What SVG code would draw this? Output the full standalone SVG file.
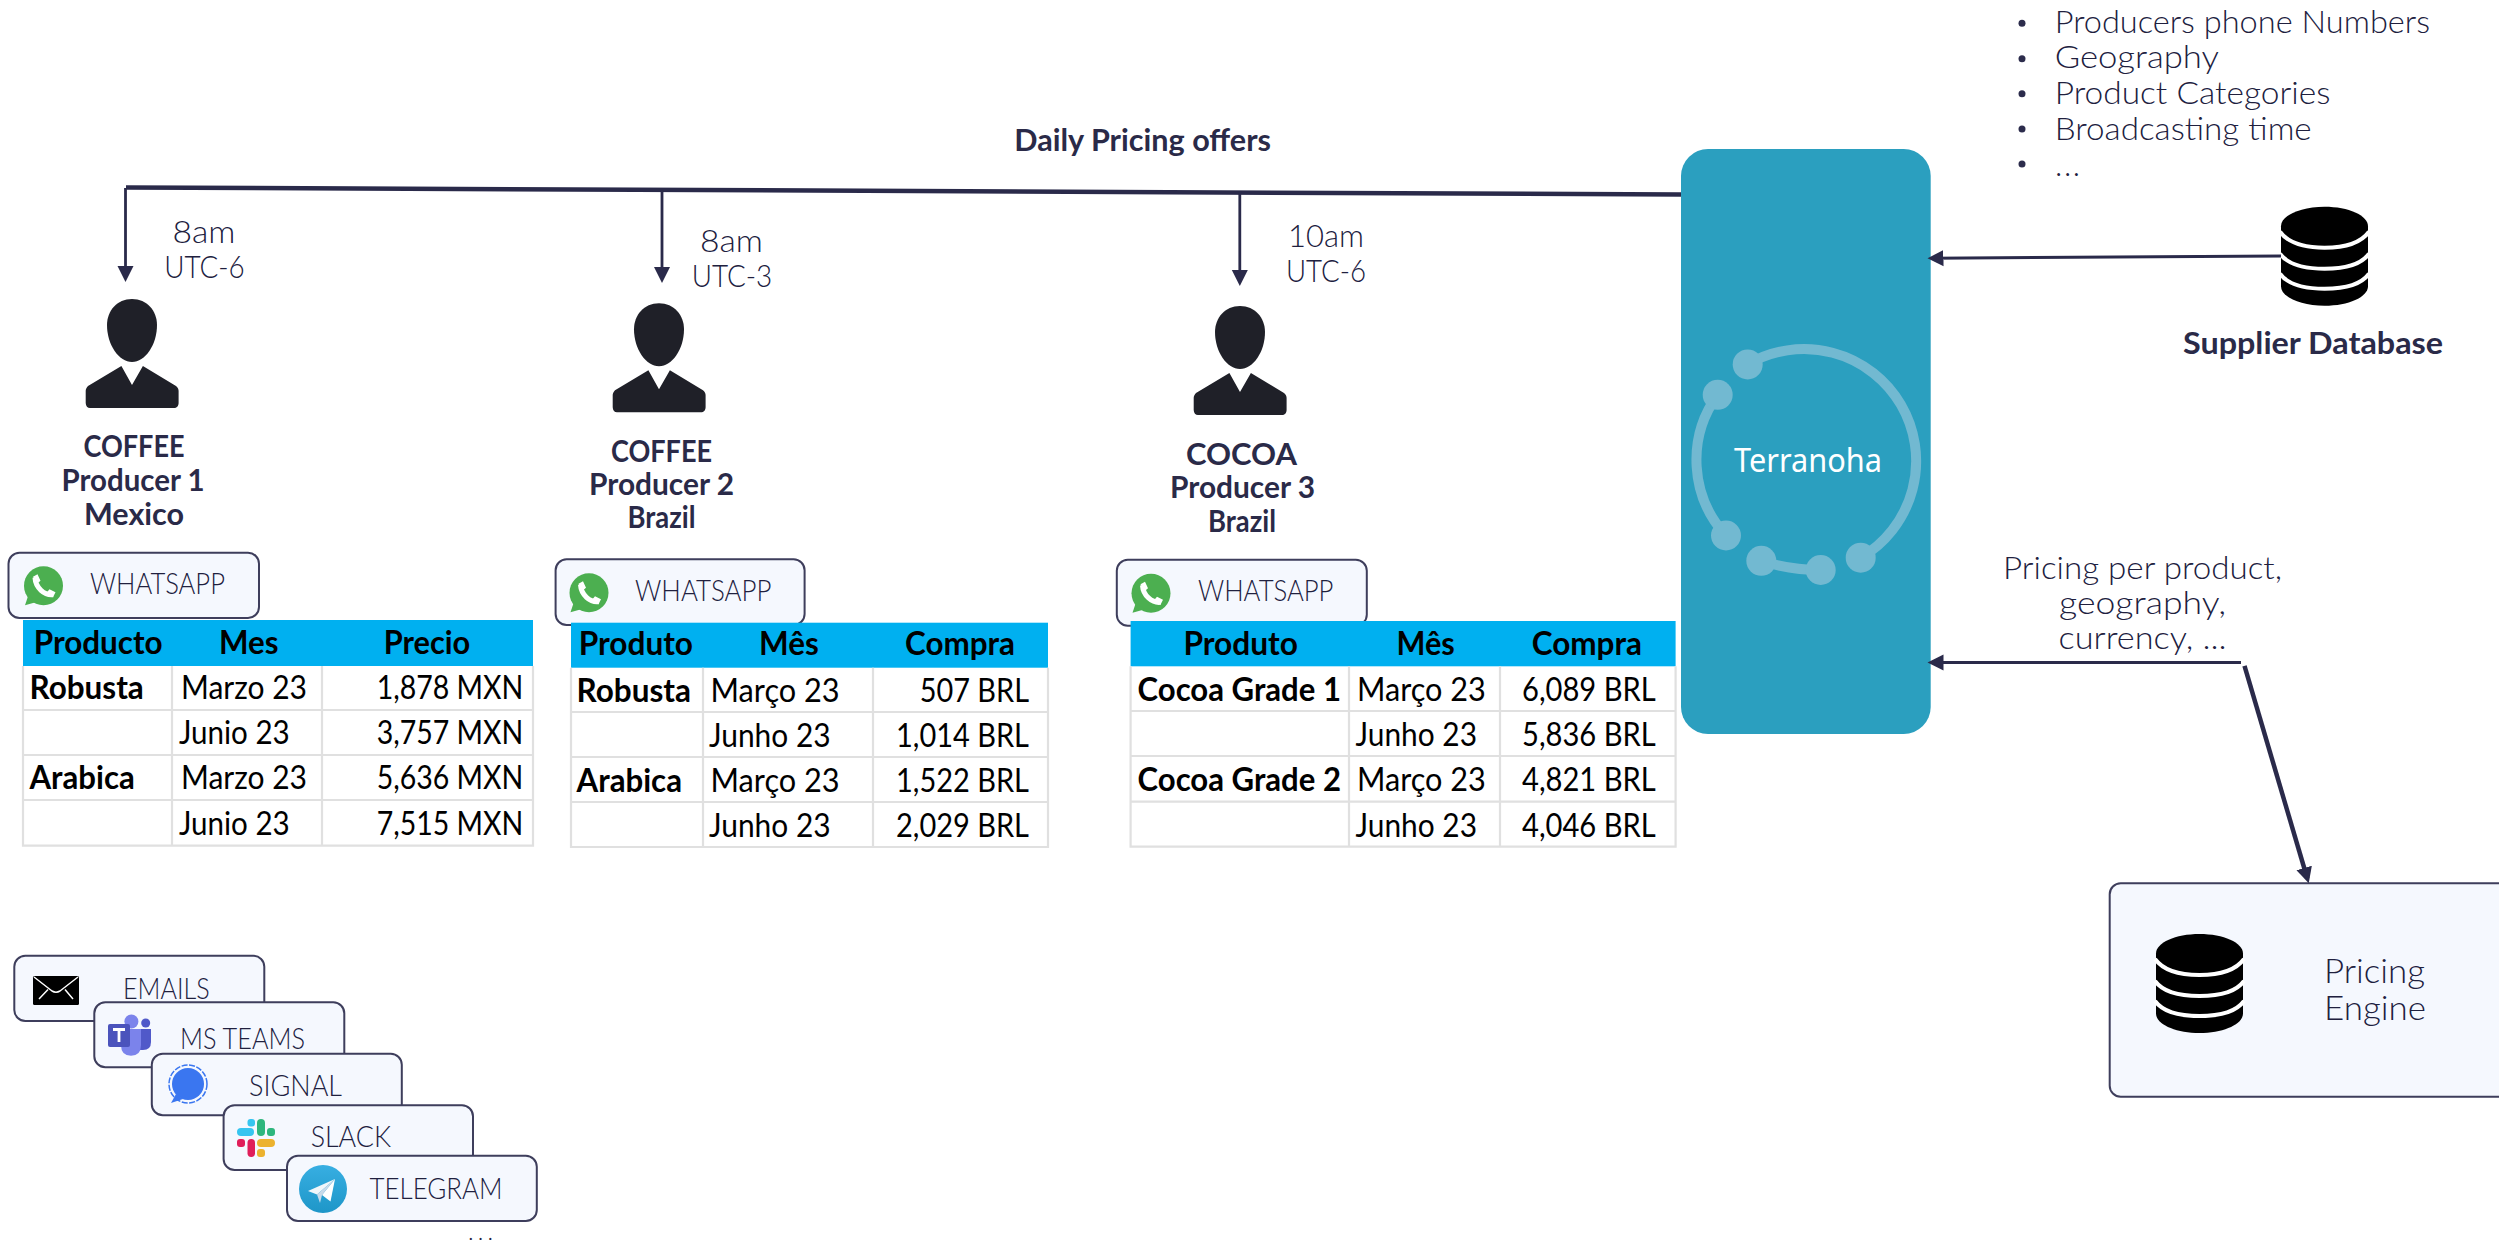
<svg xmlns="http://www.w3.org/2000/svg" width="2499" height="1245" viewBox="0 0 2499 1245">
<style>
text{font-family:"Lato","Liberation Sans",sans-serif}
.l{font-size:31px;font-weight:300;fill:#20203e}
.h{font-size:30px;font-weight:700;fill:#2a2a48}
.c{font-size:29px;font-weight:300;fill:#20203e}
.th{font-size:33px;font-weight:700;fill:#000}
.td{font-size:33px;font-weight:400;fill:#000}
.tb{font-size:33px;font-weight:700;fill:#000}
.card{fill:#f5f8fe;stroke:#3e3e5c;stroke-width:2}
.grid{stroke:#e0e0e0;stroke-width:2.2;fill:none}
.hd{fill:#00b0f0}
.thin{stroke:#2a2a4a;stroke-width:2.8;fill:none}
.mid{stroke:#2a2a4a;stroke-width:3;fill:none}
.thick{stroke:#2a2a4a;stroke-width:4.5;fill:none}
.ring{stroke:#72b9d1;stroke-width:10;fill:none}
.dot{fill:#72b9d1}
.band{stroke:#fff;stroke-width:4;fill:none}
</style>
<defs>
<marker id="arr" markerUnits="userSpaceOnUse" markerWidth="17" markerHeight="18" refX="11" refY="9" orient="auto"><path d="M0 1 L16 9 L0 17Z" fill="#2a2a4a"/></marker>
<g id="person" fill="#1f2028">
<path d="M132 299C147 299 157 311 157 325C157 345 145 362 132 362C119 362 107 345 107 325C107 311 117 299 132 299Z"/>
<path d="M121.400 366L132 385L142.900 366L176 386C178 388 178.600 389 178.600 391V403C178.600 406 176.600 408 174 408H90C87.600 408 85.700 406 85.700 403V391C85.700 389 86.500 388 88 386Z"/>
</g>
<g id="wa">
<circle r="19.500" fill="#4caf50"/><path d="M-15 9L-18.500 19.500L-6 16Z" fill="#4caf50"/>
<path d="M-8.500 -8C-8 2 1 10 9.500 9" stroke="#fff" stroke-width="5" fill="none"/>
<path d="M-10.500 -9L-6 -11.500L-3 -5L-6.500 -2ZM9.500 11.500L12 6.500L6 3.500L3 7Z" fill="#fff"/>
</g>
<g id="db">
<path d="M0 19.500C0 8.700 19.500 0 43.500 0S87 8.700 87 19.500V79.500C87 90.300 67.500 99 43.500 99S0 90.300 0 79.500Z" fill="#000"/>
<path class="band" d="M-1 25C7 36 24 41 43.500 41S80 36 88 25"/>
<path class="band" d="M-1 47C7 58 24 62 43.500 62S80 58 88 47"/>
<path class="band" d="M-1 67C7 78 24 82 43.500 82S80 78 88 67"/>
</g>
<linearGradient id="tg" x1="0" y1="0" x2="0" y2="1"><stop offset="0" stop-color="#37aee2"/><stop offset="1" stop-color="#1e96c8"/></linearGradient>
</defs>

<g id="whatsapp-1"><rect class="card" x="8.500" y="552.700" width="250.500" height="65.300" rx="11"/><use href="#wa" x="43.500" y="585.700"/><text class="c" x="90" y="593.700" textLength="135" lengthAdjust="spacingAndGlyphs">WHATSAPP</text></g>
<g id="whatsapp-2"><rect class="card" x="555.600" y="559.300" width="249" height="65.700" rx="11"/><use href="#wa" x="589" y="592.700"/><text class="c" x="635" y="601" textLength="136.500" lengthAdjust="spacingAndGlyphs">WHATSAPP</text></g>
<g id="whatsapp-3"><rect class="card" x="1116.800" y="559.700" width="250" height="66" rx="11"/><use href="#wa" x="1151" y="593.300"/><text class="c" x="1198" y="600.700" textLength="135.500" lengthAdjust="spacingAndGlyphs">WHATSAPP</text></g>

<g id="producer-1">
<use href="#person"/>
<text class="h" x="134" y="456.700" text-anchor="middle" textLength="101" lengthAdjust="spacingAndGlyphs">COFFEE</text>
<text class="h" x="133" y="490.700" text-anchor="middle" textLength="143" lengthAdjust="spacingAndGlyphs">Producer 1</text>
<text class="h" x="134" y="525" text-anchor="middle" textLength="100" lengthAdjust="spacingAndGlyphs">Mexico</text>
<text class="l" x="204" y="243" text-anchor="middle" textLength="63" lengthAdjust="spacingAndGlyphs">8am</text>
<text class="l" x="204.500" y="277.700" text-anchor="middle" textLength="80.500" lengthAdjust="spacingAndGlyphs">UTC-6</text>
</g>
<g id="producer-2">
<use href="#person" x="527" y="4.300"/>
<text class="h" x="661.500" y="461.700" text-anchor="middle" textLength="101" lengthAdjust="spacingAndGlyphs">COFFEE</text>
<text class="h" x="661.500" y="495" text-anchor="middle" textLength="145" lengthAdjust="spacingAndGlyphs">Producer 2</text>
<text class="h" x="661.500" y="528" text-anchor="middle" textLength="68" lengthAdjust="spacingAndGlyphs">Brazil</text>
<text class="l" x="731.500" y="252" text-anchor="middle" textLength="63" lengthAdjust="spacingAndGlyphs">8am</text>
<text class="l" x="732" y="286.700" text-anchor="middle" textLength="80.500" lengthAdjust="spacingAndGlyphs">UTC-3</text>
</g>
<g id="producer-3">
<use href="#person" x="1108" y="7"/>
<text class="h" x="1241.500" y="465" text-anchor="middle" textLength="111" lengthAdjust="spacingAndGlyphs">COCOA</text>
<text class="h" x="1242.500" y="498" text-anchor="middle" textLength="145" lengthAdjust="spacingAndGlyphs">Producer 3</text>
<text class="h" x="1242" y="531.700" text-anchor="middle" textLength="68" lengthAdjust="spacingAndGlyphs">Brazil</text>
<text class="l" x="1326" y="247" text-anchor="middle" textLength="76" lengthAdjust="spacingAndGlyphs">10am</text>
<text class="l" x="1326" y="281.700" text-anchor="middle" textLength="80" lengthAdjust="spacingAndGlyphs">UTC-6</text>
</g>

<g id="table-1">
<rect class="hd" x="23" y="620" width="510" height="46"/>
<path class="grid" d="M23 666V845.700H533V666M23 710H533M23 755H533M23 800H533M172 666V845.700M322 666V845.700"/>
<text class="th" x="33.700" y="654" textLength="129" lengthAdjust="spacingAndGlyphs">Producto</text>
<text class="th" x="219" y="654" textLength="59.500" lengthAdjust="spacingAndGlyphs">Mes</text>
<text class="th" x="383.700" y="654" textLength="86.500" lengthAdjust="spacingAndGlyphs">Precio</text>
<text class="tb" x="29.500" y="699.300" textLength="114.300" lengthAdjust="spacingAndGlyphs">Robusta</text>
<text class="td" x="181" y="699.300" textLength="126" lengthAdjust="spacingAndGlyphs">Marzo 23</text>
<text class="td" x="376.700" y="699.300" textLength="146.600" lengthAdjust="spacingAndGlyphs">1,878 MXN</text>
<text class="td" x="179" y="744" textLength="110.700" lengthAdjust="spacingAndGlyphs">Junio 23</text>
<text class="td" x="376.700" y="744" textLength="146.600" lengthAdjust="spacingAndGlyphs">3,757 MXN</text>
<text class="tb" x="29.500" y="789" textLength="105.200" lengthAdjust="spacingAndGlyphs">Arabica</text>
<text class="td" x="181" y="789" textLength="126" lengthAdjust="spacingAndGlyphs">Marzo 23</text>
<text class="td" x="376.700" y="789" textLength="146.600" lengthAdjust="spacingAndGlyphs">5,636 MXN</text>
<text class="td" x="179" y="834.700" textLength="110.700" lengthAdjust="spacingAndGlyphs">Junio 23</text>
<text class="td" x="376.700" y="834.700" textLength="146.600" lengthAdjust="spacingAndGlyphs">7,515 MXN</text>
</g>
<g id="table-2">
<rect class="hd" x="571" y="622.700" width="477" height="45"/>
<path class="grid" d="M571 667.700V847H1048V667.700M571 712H1048M571 757H1048M571 802H1048M703 667.700V847M873 667.700V847"/>
<text class="th" x="578.700" y="655" textLength="114.300" lengthAdjust="spacingAndGlyphs">Produto</text>
<text class="th" x="759" y="655" textLength="59.700" lengthAdjust="spacingAndGlyphs">Mês</text>
<text class="th" x="905" y="655" textLength="110" lengthAdjust="spacingAndGlyphs">Compra</text>
<text class="tb" x="576.600" y="701.700" textLength="114.400" lengthAdjust="spacingAndGlyphs">Robusta</text>
<text class="td" x="710.600" y="701.700" textLength="129" lengthAdjust="spacingAndGlyphs">Março 23</text>
<text class="td" x="1029" y="701.700" text-anchor="end" textLength="109.300" lengthAdjust="spacingAndGlyphs">507 BRL</text>
<text class="td" x="709" y="746.700" textLength="121.600" lengthAdjust="spacingAndGlyphs">Junho 23</text>
<text class="td" x="1029" y="746.700" text-anchor="end" textLength="133" lengthAdjust="spacingAndGlyphs">1,014 BRL</text>
<text class="tb" x="576.600" y="791.700" textLength="105.400" lengthAdjust="spacingAndGlyphs">Arabica</text>
<text class="td" x="710.600" y="791.700" textLength="129" lengthAdjust="spacingAndGlyphs">Março 23</text>
<text class="td" x="1029" y="791.700" text-anchor="end" textLength="133" lengthAdjust="spacingAndGlyphs">1,522 BRL</text>
<text class="td" x="709" y="836.700" textLength="121.600" lengthAdjust="spacingAndGlyphs">Junho 23</text>
<text class="td" x="1029" y="836.700" text-anchor="end" textLength="133" lengthAdjust="spacingAndGlyphs">2,029 BRL</text>
</g>
<g id="table-3">
<rect class="hd" x="1130.600" y="621" width="545" height="45.300"/>
<path class="grid" d="M1130.600 666.300V846.700H1675.600V666.300M1130.600 711H1675.600M1130.600 756H1675.600M1130.600 801.700H1675.600M1349 666.300V846.700M1500 666.300V846.700"/>
<text class="th" x="1183.400" y="655" textLength="114.500" lengthAdjust="spacingAndGlyphs">Produto</text>
<text class="th" x="1396.600" y="655" textLength="58.200" lengthAdjust="spacingAndGlyphs">Mês</text>
<text class="th" x="1531.700" y="655" textLength="110.300" lengthAdjust="spacingAndGlyphs">Compra</text>
<text class="tb" x="1137.500" y="701" textLength="203.500" lengthAdjust="spacingAndGlyphs">Cocoa Grade 1</text>
<text class="td" x="1357" y="701" textLength="128.800" lengthAdjust="spacingAndGlyphs">Março 23</text>
<text class="td" x="1522" y="701" textLength="133.700" lengthAdjust="spacingAndGlyphs">6,089 BRL</text>
<text class="td" x="1355.600" y="746" textLength="121.400" lengthAdjust="spacingAndGlyphs">Junho 23</text>
<text class="td" x="1522" y="746" textLength="133.700" lengthAdjust="spacingAndGlyphs">5,836 BRL</text>
<text class="tb" x="1137.500" y="791" textLength="203.500" lengthAdjust="spacingAndGlyphs">Cocoa Grade 2</text>
<text class="td" x="1357" y="791" textLength="128.800" lengthAdjust="spacingAndGlyphs">Março 23</text>
<text class="td" x="1522" y="791" textLength="133.700" lengthAdjust="spacingAndGlyphs">4,821 BRL</text>
<text class="td" x="1355.600" y="836.700" textLength="121.400" lengthAdjust="spacingAndGlyphs">Junho 23</text>
<text class="td" x="1522" y="836.700" textLength="133.700" lengthAdjust="spacingAndGlyphs">4,046 BRL</text>
</g>

<g id="channel-emails">
<rect class="card" x="14.300" y="955.700" width="250" height="65.300" rx="11"/>
<rect x="33" y="976" width="46" height="29" rx="1.500" fill="#000"/>
<path d="M34 977L52 991Q56 993.500 60 991L78 977M39 999L48 989.500M73 999L65 989.500" stroke="#fff" stroke-width="1.500" fill="none"/>
<text class="c" x="123" y="999" textLength="86.600" lengthAdjust="spacingAndGlyphs">EMAILS</text>
</g>
<g id="channel-teams">
<rect class="card" x="94.300" y="1002.300" width="250" height="65" rx="11"/>
<circle cx="145.700" cy="1023" r="4.500" fill="#5059c9"/>
<path d="M137 1029H151V1042Q151 1050 143 1050H137Z" fill="#5059c9"/>
<path d="M121 1029H141V1045Q141 1055.700 131 1055.700Q121 1055.700 121 1045Z" fill="#7b83eb"/>
<circle cx="131.400" cy="1021.500" r="7" fill="#7b83eb"/>
<rect x="108" y="1024" width="22" height="23" rx="2" fill="#4b53bc"/>
<path d="M113 1029.500H125M119 1029.500V1042" stroke="#fff" stroke-width="2.800" fill="none"/>
<text class="c" x="180" y="1049" textLength="125" lengthAdjust="spacingAndGlyphs">MS TEAMS</text>
</g>
<g id="channel-signal">
<rect class="card" x="151.800" y="1053.700" width="250" height="61.600" rx="11"/>
<circle cx="188" cy="1084" r="16" fill="#3a76f0"/>
<path d="M176 1094L171 1103L183 1099Z" fill="#3a76f0"/>
<circle cx="188" cy="1084" r="19" fill="none" stroke="#3a76f0" stroke-width="1.500" stroke-dasharray="6 1.500"/>
<text class="c" x="249" y="1096" textLength="93" lengthAdjust="spacingAndGlyphs">SIGNAL</text>
</g>
<g id="channel-slack">
<rect class="card" x="223.600" y="1105.300" width="249.400" height="64.700" rx="11"/>
<rect x="237" y="1128" width="17" height="8" rx="4" fill="#36c5f0"/><rect x="247.500" y="1119" width="7.500" height="7.500" rx="3" fill="#36c5f0"/>
<rect x="257" y="1119" width="8" height="17" rx="4" fill="#2eb67d"/><rect x="267" y="1128" width="8" height="8" rx="3" fill="#2eb67d"/>
<rect x="237" y="1139" width="8" height="8" rx="3" fill="#e01e5a"/><rect x="247.500" y="1139" width="7.500" height="18" rx="3.700" fill="#e01e5a"/>
<rect x="257" y="1139" width="18" height="8" rx="4" fill="#ecb22e"/><rect x="257" y="1149" width="8" height="8" rx="3" fill="#ecb22e"/>
<text class="c" x="310.700" y="1147" textLength="80.300" lengthAdjust="spacingAndGlyphs">SLACK</text>
</g>
<g id="channel-telegram">
<rect class="card" x="287" y="1155.700" width="249.800" height="65.300" rx="11"/>
<circle cx="323" cy="1189" r="24" fill="url(#tg)"/>
<path d="M335 1179L308 1191L317 1194.500Z" fill="#f0f6fa"/>
<path d="M335 1179L322 1195L330.500 1201.500Z" fill="#fff"/>
<path d="M317 1194.500L320 1203L322 1195L335 1179Z" fill="#c8daea"/>
<text class="c" x="369.600" y="1199" textLength="132.900" lengthAdjust="spacingAndGlyphs">TELEGRAM</text>
</g>
<text x="468" y="1240" font-size="24" font-weight="300" fill="#20203e" textLength="25" lengthAdjust="spacing">...</text>

<g id="terranoha">
<rect x="1681" y="149" width="249.700" height="585" rx="27" fill="#2b9fbf"/>
<path class="ring" d="M1747.700 364.400A111 111 0 1 1 1860.700 557.700"/>
<path class="ring" d="M1717.700 394.800A111 111 0 0 0 1726 535.500"/>
<path class="ring" d="M1761.300 560.800Q1790 570 1820.700 570"/>
<circle class="dot" cx="1747.700" cy="364.400" r="15"/>
<circle class="dot" cx="1717.700" cy="394.800" r="15"/>
<circle class="dot" cx="1726" cy="535.500" r="15"/>
<circle class="dot" cx="1761.300" cy="560.800" r="15"/>
<circle class="dot" cx="1820.700" cy="570" r="15"/>
<circle class="dot" cx="1860.700" cy="557.700" r="15"/>
<text x="1734" y="472" font-size="33" fill="#fff" style="font-family:'Noto Sans','Liberation Sans',sans-serif" textLength="148" lengthAdjust="spacingAndGlyphs">Terranoha</text>
</g>

<g id="supplier-db">
<use href="#db" x="2281" y="206.700"/>
<text class="h" x="2183" y="354" textLength="260" lengthAdjust="spacingAndGlyphs">Supplier Database</text>
</g>
<g id="supplier-fields">
<circle cx="2022" cy="23.300" r="3.500" fill="#2c2c4c"/><circle cx="2022" cy="58.700" r="3.500" fill="#2c2c4c"/><circle cx="2022" cy="93.700" r="3.500" fill="#2c2c4c"/><circle cx="2022" cy="129" r="3.500" fill="#2c2c4c"/><circle cx="2022" cy="164" r="3.500" fill="#2c2c4c"/>
<text class="l" x="2054.700" y="33.300" textLength="375.300" lengthAdjust="spacingAndGlyphs">Producers phone Numbers</text>
<text class="l" x="2054.700" y="68.300" textLength="164.300" lengthAdjust="spacingAndGlyphs">Geography</text>
<text class="l" x="2054.700" y="104.300" textLength="275.800" lengthAdjust="spacingAndGlyphs">Product Categories</text>
<text class="l" x="2054.700" y="140" textLength="257" lengthAdjust="spacingAndGlyphs">Broadcasting time</text>
<text class="l" x="2055" y="176" textLength="25" lengthAdjust="spacing">...</text>
</g>
<g id="pricing-label">
<text class="l" x="2142.500" y="578.800" text-anchor="middle" textLength="279" lengthAdjust="spacingAndGlyphs">Pricing per product,</text>
<text class="l" x="2142.500" y="614" text-anchor="middle" textLength="167" lengthAdjust="spacingAndGlyphs">geography,</text>
<text class="l" x="2142.500" y="648.800" text-anchor="middle" textLength="168" lengthAdjust="spacingAndGlyphs">currency, ...</text>
</g>
<g id="pricing-engine">
<rect class="card" x="2109.700" y="883.300" width="420" height="213.500" rx="11"/>
<use href="#db" x="2156" y="934"/>
<text class="l" x="2324" y="982.800" textLength="101" lengthAdjust="spacingAndGlyphs" style="font-size:33px">Pricing</text>
<text class="l" x="2324" y="1019.800" textLength="102" lengthAdjust="spacingAndGlyphs" style="font-size:33px">Engine</text>
</g>
<text id="daily-label" class="h" x="1014.300" y="150.700" textLength="256.700" lengthAdjust="spacingAndGlyphs">Daily Pricing offers</text>

<g id="connectors">
<path class="thick" d="M126 187.500L1681 194.500"/>
<path class="thin" d="M125.500 188V277" marker-end="url(#arr)"/>
<path class="thin" d="M662 190V278" marker-end="url(#arr)"/>
<path class="thin" d="M1239.800 192V281" marker-end="url(#arr)"/>
<path class="mid" d="M2281 256L1932.500 258.200" marker-end="url(#arr)"/>
<path class="mid" d="M2241 662.500H1932.500" marker-end="url(#arr)"/>
<path class="thick" d="M2244.500 665.800L2307.300 878.500" marker-end="url(#arr)"/>
</g>
</svg>
